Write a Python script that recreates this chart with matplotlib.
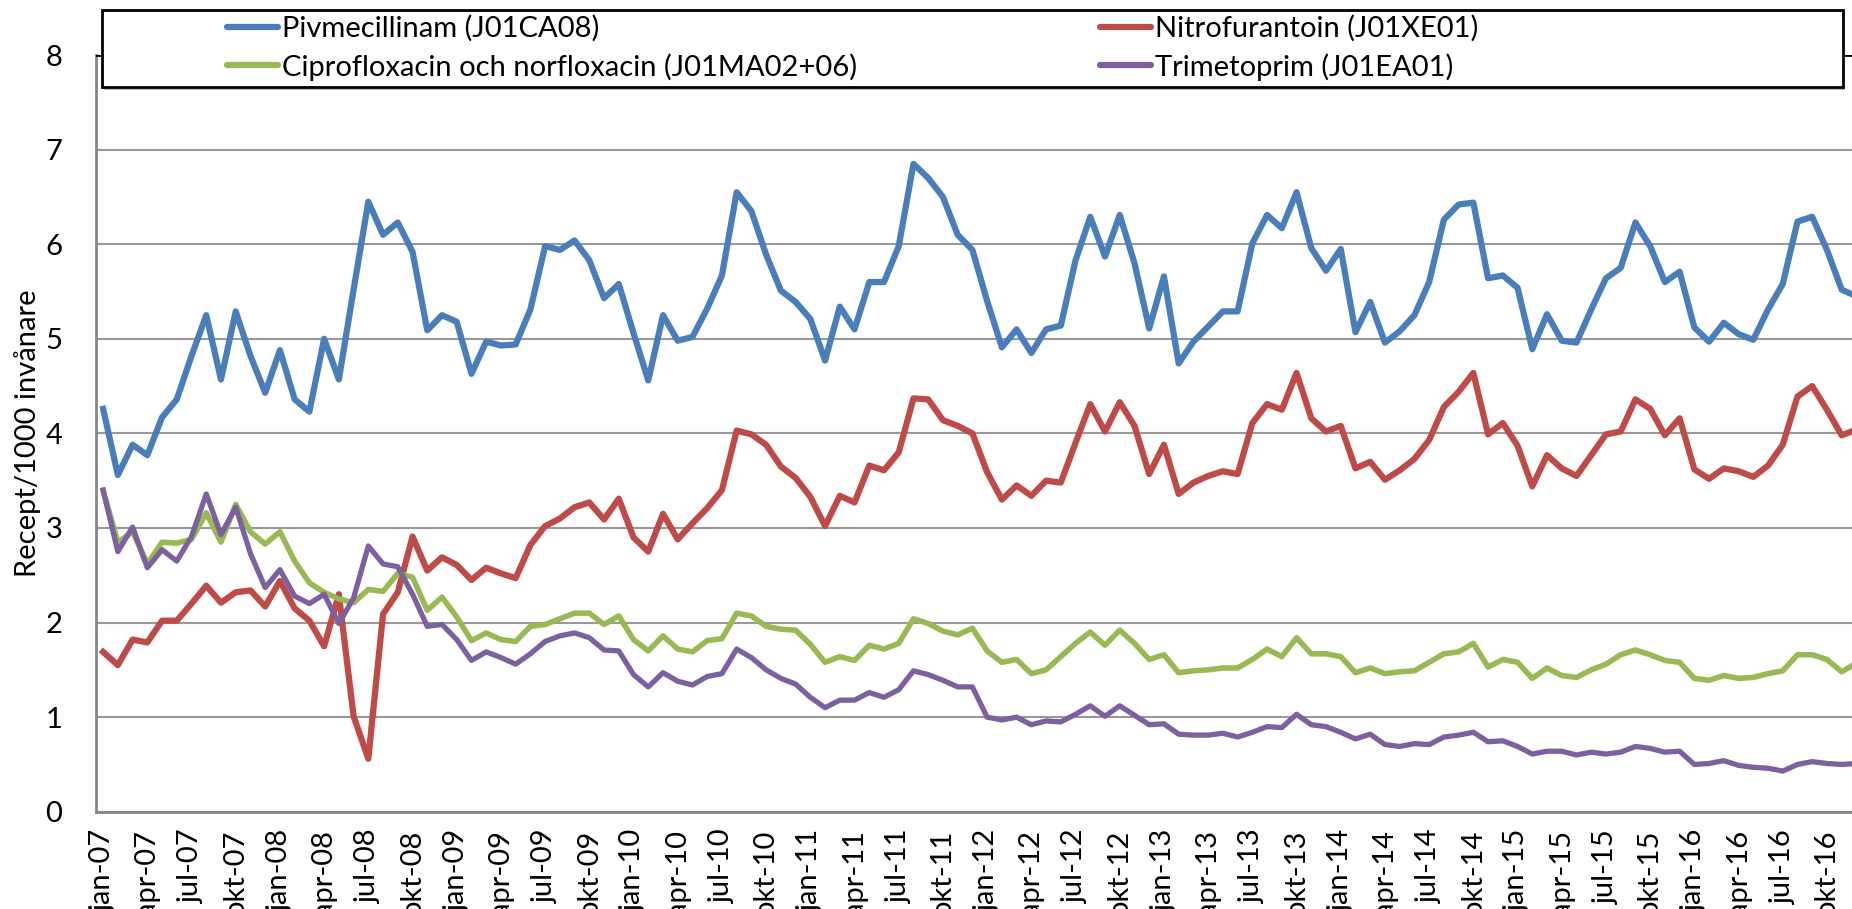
import matplotlib
matplotlib.use('Agg')
import matplotlib.pyplot as plt
from matplotlib.patches import Rectangle

# Monthly values jan-07 .. dec-16 (Recept/1000 invånare)
years = list(range(2007, 2017))
month_names = ['jan', 'feb', 'mar', 'apr', 'maj', 'jun',
               'jul', 'aug', 'sep', 'okt', 'nov', 'dec']

pivmecillinam = [
    4.26, 3.56, 3.88, 3.77, 4.17, 4.36, 4.82, 5.25, 4.57, 5.29, 4.82, 4.43,
    4.88, 4.36, 4.23, 5.00, 4.57, 5.52, 6.45, 6.10, 6.23, 5.92, 5.09, 5.25,
    5.18, 4.63, 4.97, 4.93, 4.94, 5.31, 5.98, 5.94, 6.04, 5.83, 5.43, 5.58,
    5.06, 4.56, 5.25, 4.98, 5.02, 5.32, 5.67, 6.55, 6.35, 5.89, 5.51, 5.39,
    5.21, 4.77, 5.34, 5.10, 5.60, 5.60, 5.98, 6.85, 6.70, 6.50, 6.10, 5.94,
    5.40, 4.91, 5.10, 4.85, 5.10, 5.14, 5.83, 6.29, 5.87, 6.31, 5.80, 5.11,
    5.66, 4.74, 4.97, 5.13, 5.29, 5.29, 6.01, 6.31, 6.17, 6.55, 5.96, 5.72,
    5.95, 5.07, 5.39, 4.96, 5.08, 5.25, 5.60, 6.26, 6.42, 6.44, 5.64, 5.67,
    5.54, 4.89, 5.26, 4.98, 4.96, 5.31, 5.64, 5.75, 6.23, 5.98, 5.60, 5.71,
    5.12, 4.97, 5.17, 5.05, 4.99, 5.31, 5.58, 6.24, 6.29, 5.94, 5.52, 5.45,
]
nitrofurantoin = [
    1.69, 1.55, 1.82, 1.79, 2.02, 2.02, 2.20, 2.39, 2.21, 2.32, 2.34, 2.17,
    2.44, 2.15, 2.02, 1.75, 2.30, 1.01, 0.56, 2.09, 2.32, 2.91, 2.55, 2.69,
    2.61, 2.45, 2.58, 2.52, 2.47, 2.82, 3.02, 3.10, 3.22, 3.27, 3.09, 3.31,
    2.90, 2.75, 3.15, 2.88, 3.05, 3.21, 3.40, 4.03, 3.99, 3.88, 3.65, 3.53,
    3.33, 3.02, 3.34, 3.27, 3.66, 3.61, 3.80, 4.37, 4.36, 4.14, 4.08, 4.00,
    3.59, 3.30, 3.45, 3.34, 3.50, 3.48, 3.90, 4.31, 4.02, 4.33, 4.08, 3.57,
    3.88, 3.36, 3.48, 3.55, 3.60, 3.57, 4.11, 4.31, 4.25, 4.64, 4.16, 4.02,
    4.08, 3.63, 3.70, 3.51, 3.61, 3.73, 3.93, 4.28, 4.44, 4.64, 3.99, 4.11,
    3.87, 3.44, 3.77, 3.63, 3.55, 3.77, 3.99, 4.02, 4.36, 4.26, 3.98, 4.16,
    3.62, 3.52, 3.63, 3.60, 3.54, 3.66, 3.88, 4.39, 4.50, 4.25, 3.98, 4.04,
]
ciprofloxacin = [
    3.40, 2.85, 2.96, 2.62, 2.85, 2.84, 2.88, 3.16, 2.85, 3.25, 2.96, 2.83,
    2.96, 2.65, 2.42, 2.32, 2.25, 2.21, 2.35, 2.33, 2.52, 2.48, 2.13, 2.27,
    2.06, 1.81, 1.89, 1.82, 1.80, 1.96, 1.98, 2.04, 2.10, 2.10, 1.98, 2.07,
    1.82, 1.70, 1.86, 1.72, 1.69, 1.81, 1.83, 2.10, 2.07, 1.96, 1.93, 1.92,
    1.77, 1.58, 1.64, 1.60, 1.76, 1.72, 1.78, 2.04, 1.99, 1.91, 1.87, 1.94,
    1.70, 1.58, 1.61, 1.46, 1.50, 1.64, 1.78, 1.90, 1.76, 1.92, 1.78, 1.61,
    1.66, 1.47, 1.49, 1.50, 1.52, 1.52, 1.61, 1.72, 1.64, 1.84, 1.67, 1.67,
    1.64, 1.47, 1.52, 1.46, 1.48, 1.49, 1.58, 1.67, 1.69, 1.78, 1.53, 1.61,
    1.58, 1.41, 1.52, 1.44, 1.42, 1.50, 1.56, 1.66, 1.71, 1.66, 1.60, 1.58,
    1.41, 1.39, 1.44, 1.41, 1.42, 1.46, 1.49, 1.66, 1.66, 1.61, 1.48, 1.57,
]
trimetoprim = [
    3.40, 2.75, 3.01, 2.58, 2.77, 2.65, 2.91, 3.36, 2.93, 3.22, 2.73, 2.37,
    2.56, 2.28, 2.20, 2.30, 1.99, 2.26, 2.81, 2.62, 2.59, 2.30, 1.96, 1.98,
    1.82, 1.60, 1.69, 1.63, 1.56, 1.67, 1.80, 1.86, 1.89, 1.84, 1.71, 1.70,
    1.45, 1.32, 1.47, 1.38, 1.34, 1.43, 1.46, 1.72, 1.63, 1.50, 1.41, 1.35,
    1.21, 1.10, 1.18, 1.18, 1.26, 1.21, 1.29, 1.49, 1.45, 1.39, 1.32, 1.32,
    1.00, 0.97, 1.00, 0.92, 0.96, 0.95, 1.03, 1.12, 1.01, 1.12, 1.02, 0.92,
    0.93, 0.82, 0.81, 0.81, 0.83, 0.79, 0.84, 0.90, 0.89, 1.03, 0.92, 0.90,
    0.84, 0.77, 0.82, 0.71, 0.69, 0.72, 0.71, 0.79, 0.81, 0.84, 0.74, 0.75,
    0.69, 0.61, 0.64, 0.64, 0.60, 0.63, 0.61, 0.63, 0.69, 0.67, 0.63, 0.64,
    0.50, 0.51, 0.54, 0.49, 0.47, 0.46, 0.43, 0.50, 0.53, 0.51, 0.50, 0.51,
]

labels = [f'{m}-{str(y)[2:]}' for y in years for m in month_names]
x = list(range(len(labels)))

plt.rcParams['font.family'] = ['Lato', 'DejaVu Sans']
FS = 21

fig = plt.figure(figsize=(18.52, 9.09), dpi=100)
ax = fig.add_axes([0.0517, 0.107, 0.9483, 0.8324])

# Excel-style series colours, drawn in the original order
ax.plot(x, pivmecillinam, color='#4A7EBB', lw=4.5, label='Pivmecillinam (J01CA08)')
ax.plot(x, nitrofurantoin, color='#BE4B48', lw=4.5, label='Nitrofurantoin (J01XE01)')
ax.plot(x, ciprofloxacin, color='#98B954', lw=4.0, label='Ciprofloxacin och norfloxacin (J01MA02+06)')
ax.plot(x, trimetoprim, color='#7D60A0', lw=3.8, label='Trimetoprim (J01EA01)')

ax.set_xlim(-0.5, 118.7)
ax.set_ylim(0, 8)
ax.set_yticks(range(0, 9))
ax.grid(axis='y', color='#999999', lw=1.5)
ax.set_axisbelow(True)

ax.set_xticks(x[::3])
ax.set_xticklabels(labels[::3], rotation=90, fontsize=FS)
ax.tick_params(axis='x', length=0, pad=13)
ax.tick_params(axis='y', length=0, pad=24, labelsize=FS)

for side in ['top', 'right']:
    ax.spines[side].set_visible(False)
ax.spines['left'].set_color('#868686')
ax.spines['left'].set_linewidth(2)
ax.spines['bottom'].set_color('#868686')
ax.spines['bottom'].set_linewidth(2)
ax.axhline(8, color='black', lw=2, zorder=3)

ax.set_ylabel('Recept/1000 invånare', fontsize=FS)
ax.yaxis.set_label_coords(-0.031, 0.5)

# Legend box with a light shadow
fig.patches.append(Rectangle((104 / 1852, 1 - 90 / 909), 1741 / 1852, 77 / 909,
                             transform=fig.transFigure, facecolor='#bbbbbb',
                             edgecolor='none', zorder=1))
fig.patches.append(Rectangle((102 / 1852, 1 - 87 / 909), 1741 / 1852, 77 / 909,
                             transform=fig.transFigure, facecolor='white',
                             edgecolor='black', lw=2, zorder=2))

h, l = ax.get_legend_handles_labels()
order = [0, 2, 1, 3]
leg = fig.legend([h[i] for i in order], [l[i] for i in order], ncol=2,
                 loc='upper left', bbox_to_anchor=(227 / 1852, 1 - 15 / 909),
                 frameon=False, fontsize=FS, handlelength=1.75, handletextpad=0.15,
                 columnspacing=8.3, labelspacing=0.38, borderpad=0, borderaxespad=0)
leg.set_zorder(5)
for line in leg.get_lines():
    line.set_linewidth(4.5)
    line.set_solid_capstyle('round')

fig.savefig('out.png', dpi=100)
